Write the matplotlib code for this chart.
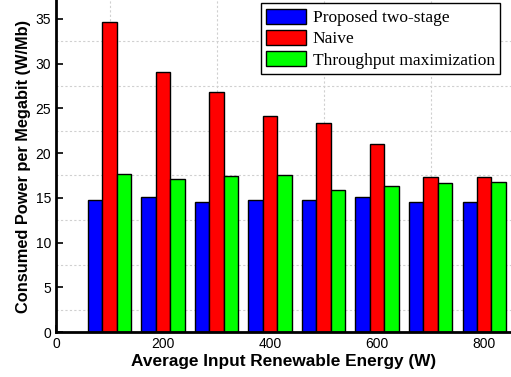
import numpy as np
import matplotlib
matplotlib.use("Agg")
import matplotlib.pyplot as plt
from matplotlib.ticker import MultipleLocator, FixedLocator

energy = [100, 200, 300, 400, 500, 600, 700, 800]
proposed = [14.8, 15.1, 14.5, 14.7, 14.8, 15.1, 14.5, 14.5]
naive = [34.6, 29.0, 26.8, 24.1, 23.3, 21.0, 17.3, 17.3]
throughput = [17.7, 17.15, 17.4, 17.6, 15.9, 16.3, 16.6, 16.8]

fig = plt.figure(figsize=(5.11, 3.77), dpi=100)
ax = fig.add_axes([56/511, 45/377, 1 - 56/511, 1 - 45/377])

x = np.array(energy)
w = 27
ax.bar(x - w, proposed, w, color="#0000ff", edgecolor="black", lw=1, label="Proposed two-stage", zorder=3)
ax.bar(x, naive, w, color="#ff0000", edgecolor="black", lw=1, label="Naive", zorder=3)
ax.bar(x + w, throughput, w, color="#00ff00", edgecolor="black", lw=1, label="Throughput maximization", zorder=3)

ax.set_xlim(0, 850)
ax.set_ylim(0, 37.1)
ax.xaxis.set_major_locator(MultipleLocator(200))
ax.xaxis.set_minor_locator(FixedLocator([100, 300, 500, 700]))
ax.yaxis.set_major_locator(MultipleLocator(5))
ax.yaxis.set_minor_locator(MultipleLocator(2.5))
ax.grid(which="minor", color="#d0d0d0", ls=(0, (2, 2)), lw=0.8, zorder=0)
ax.grid(which="major", visible=False)
ax.tick_params(which="major", direction="in", length=5, width=1.2, labelsize=10)
ax.tick_params(axis="x", which="minor", direction="in", length=5, width=1.2)
ax.tick_params(axis="y", which="minor", length=0)

for s in ["top", "right"]:
    ax.spines[s].set_visible(False)
for s in ["left", "bottom"]:
    ax.spines[s].set_linewidth(2)
    ax.spines[s].set_zorder(4)

ax.set_xlabel("Average Input Renewable Energy (W)", fontsize=12.4, fontweight="bold",
              family="Liberation Sans", labelpad=2)
ax.set_ylabel("Consumed Power per Megabit (W/Mb)", fontsize=11.8, fontweight="bold",
              family="Liberation Sans", labelpad=3)
for lab in ax.get_xticklabels() + ax.get_yticklabels():
    lab.set_family("Liberation Sans")

leg = ax.legend(loc="upper right", bbox_to_anchor=(0.976, 0.99), prop={"family": "Liberation Serif", "size": 12.5},
                fancybox=False, edgecolor="black", framealpha=1, handlelength=2.3, handleheight=1.0,
                labelspacing=0.2, borderpad=0.3, handletextpad=0.4, borderaxespad=0)
leg.get_frame().set_linewidth(1)
leg.set_zorder(5)

fig.savefig("out.png", dpi=100)
